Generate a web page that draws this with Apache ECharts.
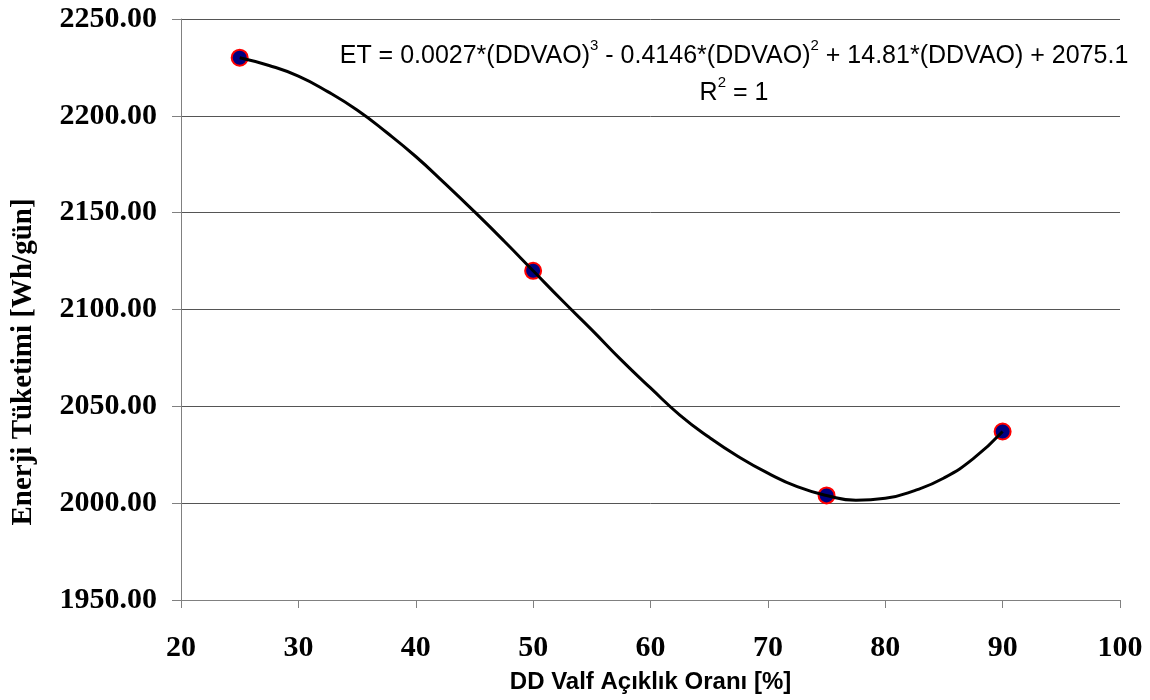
<!DOCTYPE html>
<html>
<head>
<meta charset="utf-8">
<script src="https://cdn.jsdelivr.net/npm/echarts@6/dist/echarts.min.js"></script>
<style>
  html, body { margin: 0; padding: 0; background: #fff; }
  #energyChart { width: 1150px; height: 700px; }
</style>
</head>
<body>
<div id="energyChart"></div>
<script>
// measured points (valve opening % -> energy use)
var valveOpen = [25, 50, 75, 90];
var energyUse = [2230, 2120, 2004, 2037];

// trend line
var trendX = [25, 27.5, 30, 32.5, 35, 37.5, 40, 42.5, 45, 47.5, 50, 52.5, 55, 57.5,
  60, 62.5, 65, 67.5, 70, 72.5, 75, 77.5, 80, 82.5, 85, 87.5, 90];
var trendY = [2230, 2226, 2220.5, 2212.5, 2203, 2191.5, 2179, 2165, 2150.5, 2135.5, 2120, 2104.5, 2089.5, 2074,
  2059.5, 2045.5, 2034, 2024, 2015.5, 2008.5, 2004, 2001.5, 2002.5, 2006.5, 2013, 2023, 2037];

var xTicks = [20, 30, 40, 50, 60, 70, 80, 90, 100];
var yTicks = [1950, 2000, 2050, 2100, 2150, 2200, 2250];

var pointData = []
for (var i = 0; i < valveOpen.length; i++) {
  pointData.push([valveOpen[i], energyUse[i]])
}
var trendData = []
for (var j = 0; j < trendX.length; j++) {
  trendData.push([trendX[j], trendY[j]])
}

var myChart = echarts.init(document.getElementById('energyChart'))
myChart.setOption({
  animation: false,
  backgroundColor: '#fff',
  title: {
    text: 'ET = 0.0027*(DDVAO){sup|3} - 0.4146*(DDVAO){sup|2} + 14.81*(DDVAO) + 2075.1\nR{sup|2} = 1',
    left: 729,
    top: 33,
    textAlign: 'center',
    textStyle: {
      fontFamily: 'Liberation Sans',
      fontWeight: 'normal',
      fontSize: 25,
      lineHeight: 37,
      color: '#000',
      rich: {
        sup: { fontSize: 15, verticalAlign: 'top', lineHeight: 37, fontFamily: 'Liberation Sans' }
      }
    }
  },
  // y axis title, placed by hand like the original
  graphic: [
    {
      type: 'text',
      x: 24,
      y: 362,
      rotation: Math.PI / 2,
      style: {
        text: 'Enerji Tüketimi [Wh/gün]',
        fontFamily: 'Liberation Serif',
        fontWeight: 'bold',
        fontSize: 29,
        fill: '#000',
        align: 'center',
        verticalAlign: 'middle'
      }
    }
  ],
  grid: {
    left: 181,
    right: 30,
    top: 19,
    bottom: 100,
    containLabel: false
  },
  xAxis: {
    type: 'value',
    min: xTicks[0],
    max: xTicks[xTicks.length - 1],
    interval: 10,
    name: 'DD Valf Açıklık Oranı [%]',
    nameLocation: 'middle',
    nameGap: 70,
    nameTextStyle: {
      fontFamily: 'Liberation Sans',
      fontWeight: 'bold',
      fontSize: 24,
      color: '#000'
    },
    axisLine: { lineStyle: { color: '#808080', width: 1 } },
    axisTick: { inside: false, length: 8, lineStyle: { color: '#808080' } },
    axisLabel: {
      margin: 33,
      fontFamily: 'Liberation Serif',
      fontWeight: 'bold',
      fontSize: 30,
      color: '#000'
    },
    splitLine: { show: false }
  },
  yAxis: {
    type: 'value',
    min: yTicks[0],
    max: yTicks[yTicks.length - 1],
    interval: 50,
    axisLine: { show: true, lineStyle: { color: '#808080', width: 1 } },
    axisTick: { show: true, inside: false, length: 9, lineStyle: { color: '#808080' } },
    axisLabel: {
      margin: 24,
      fontFamily: 'Liberation Serif',
      fontWeight: 'bold',
      fontSize: 30,
      color: '#000',
      formatter: function (v) { return v.toFixed(2) }
    },
    splitLine: { show: true, lineStyle: { color: '#555', width: 1 } }
  },
  series: [
    {
      name: 'points',
      type: 'scatter',
      data: pointData,
      symbol: 'circle',
      symbolSize: 16,
      z: 2,
      itemStyle: { color: '#000080', borderColor: '#ff0000', borderWidth: 2, opacity: 1 }
    },
    {
      name: 'trend',
      type: 'line',
      data: trendData,
      smooth: true,
      showSymbol: false,
      symbol: 'none',
      z: 3,
      lineStyle: { color: '#000', width: 3 }
    }
  ]
})
</script>
</body>
</html>
